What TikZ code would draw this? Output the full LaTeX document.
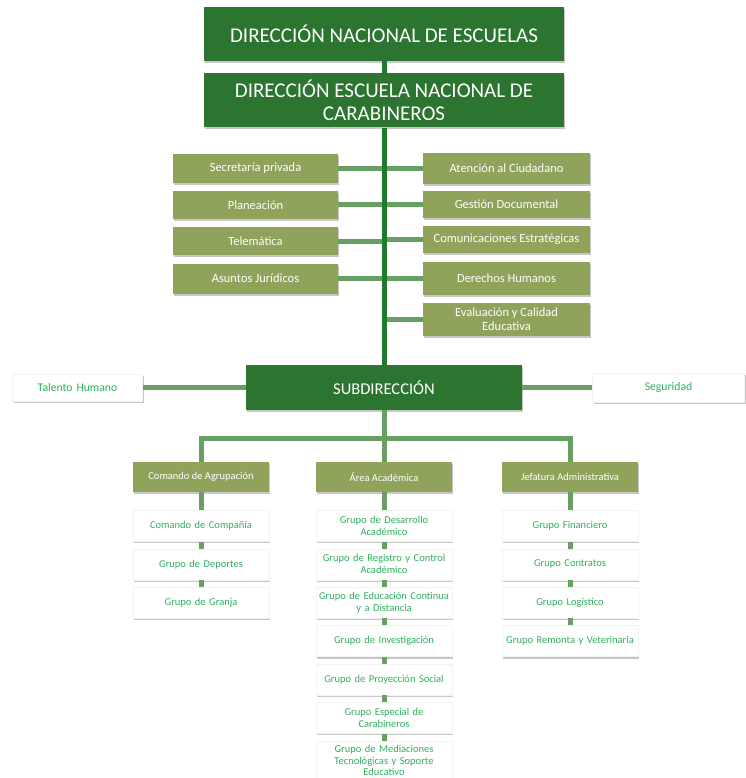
\documentclass[tikz,border=0pt]{standalone}
\usepackage{fontspec}
\setmainfont{Carlito}
\usetikzlibrary{positioning,shadows}
\definecolor{dirgreen}{HTML}{2B7530}
\definecolor{trunkgreen}{HTML}{1F7A2C}
\definecolor{linkgreen}{HTML}{68A063}
\definecolor{unitolive}{HTML}{8FA35B}
\definecolor{unittext}{HTML}{30AE5E}
\tikzset{
  shade box/.style={drop shadow={shadow xshift=1pt, shadow yshift=-2pt, opacity=.22, fill=black}},
  dbox/.style={rectangle, fill=dirgreen, text=white, align=center, font=\fontsize{21}{23}\selectfont, minimum width=360pt, minimum height=54pt, inner sep=2pt, shade box},
  subbox/.style={rectangle, fill=dirgreen, text=white, align=center, font=\fontsize{16.5}{18}\selectfont, minimum width=276pt, minimum height=45pt, inner sep=2pt, shade box},
  sbox/.style={rectangle, fill=unitolive, text=white, align=center, font=\fontsize{12.5}{14}\selectfont, minimum height=28pt, inner sep=2pt, shade box},
  hbox/.style={rectangle, fill=unitolive, text=white, align=center, font=\fontsize{10.5}{12}\selectfont, minimum width=136pt, minimum height=30pt, inner sep=2pt, shade box},
  wbox/.style={rectangle, fill=white, draw=black!5, text=unittext, align=center, font=\fontsize{10.5}{12}\selectfont, text width=133pt, minimum height=31pt, inner xsep=1.5pt, inner ysep=2pt, shade box},
  link/.style={line width=5pt, draw=linkgreen},
  trunk/.style={line width=5pt, draw=trunkgreen},
}
\begin{document}
\begin{tikzpicture}[x=1pt, y=-1pt, node distance=7pt]
\useasboundingbox (0,0) rectangle (745,778);
% direccion
\node[dbox] (dne) at (384,34) {DIRECCIÓN NACIONAL DE ESCUELAS};
\node[dbox, below=12pt of dne] (denc) {DIRECCIÓN ESCUELA NACIONAL DE\\CARABINEROS};
% staff, left
\node[sbox, minimum width=165pt] (sec) at (255.5,168.5) {Secretaría privada};
\node[sbox, minimum width=165pt, below=8pt of sec] (pla) {Planeación};
\node[sbox, minimum width=165pt, below=8pt of pla] (tel) {Telemática};
\node[sbox, minimum width=165pt, below=8pt of tel, minimum height=30pt] (asu) {Asuntos Jurídicos};
% staff, right
\node[sbox, minimum width=167pt, minimum height=31pt] (ate) at (506.5,168.5) {Atención al Ciudadano};
\node[sbox, minimum width=167pt, minimum height=27pt] (ges) at (506.5,204) {Gestión Documental};
\node[sbox, minimum width=167pt, minimum height=27pt] (com) at (506.5,239.5) {Comunicaciones Estratégicas};
\node[sbox, minimum width=167pt, minimum height=33pt] (der) at (506.5,278.5) {Derechos Humanos};
\node[sbox, minimum width=167pt, minimum height=33pt] (eva) at (506.5,319.5) {Evaluación y Calidad\\Educativa};
% subdireccion
\node[subbox] (subd) at (384,387.5) {SUBDIRECCIÓN};
\node[wbox, text width=127pt, minimum height=27pt, font=\fontsize{11.7}{13}\selectfont] (tal) at (77.5,387.5) {Talento Humano};
\node[wbox, text width=149pt, minimum height=29pt, font=\fontsize{11.7}{13}\selectfont] (seg) at (668.5,387.5) {Seguridad};
% areas
\node[hbox] (cagr) at (201,477) {Comando de Agrupación};
\node[hbox] (aaca) at (384,477) {Área Académica};
\node[hbox] (jadm) at (570,477) {Jefatura Administrativa};
\node[wbox, below=18pt of cagr] (cc1) {Comando de Compañía};
\node[wbox, below=of cc1] (cc2) {Grupo de Deportes};
\node[wbox, below=of cc2] (cc3) {Grupo de Granja};
\node[wbox, below=18pt of aaca] (ac1) {Grupo de Desarrollo\\Académico};
\node[wbox, below=of ac1] (ac2) {Grupo de Registro y Control\\Académico};
\node[wbox, below=of ac2] (ac3) {Grupo de Educación Continua\\y a Distancia};
\node[wbox, below=of ac3] (ac4) {Grupo de Investigación};
\node[wbox, below=of ac4] (ac5) {Grupo de Proyección Social};
\node[wbox, below=of ac5] (ac6) {Grupo Especial  de\\Carabineros};
\node[wbox, below=of ac6, minimum height=40pt, font=\fontsize{10.5}{11.5}\selectfont, inner ysep=1pt] (ac7) {Grupo de Mediaciones\\Tecnológicas y Soporte\\Educativo};
\node[wbox, below=18pt of jadm] (ja1) {Grupo Financiero};
\node[wbox, below=of ja1] (ja2) {Grupo Contratos};
\node[wbox, below=of ja2] (ja3) {Grupo Logístico};
\node[wbox, below=of ja3] (ja4) {Grupo Remonta y Veterinaria};
% connectors
\foreach \u in {sec,pla,tel,asu,ate,ges,com,der,eva}
  \draw[link] (\u) -- (\u -| denc);
\draw[trunk] (dne) -- (denc);
\draw[trunk] (denc) -- (subd);
\draw[link] (tal) -- (subd);
\draw[link] (seg) -- (subd);
\coordinate (bar) at (384,438);
\draw[link] (subd) -- (aaca);
\draw[link] (cagr) |- (bar) -| (jadm);
\foreach \a/\b in {cagr/cc1,cc1/cc2,cc2/cc3,aaca/ac1,ac1/ac2,ac2/ac3,ac3/ac4,ac4/ac5,ac5/ac6,ac6/ac7,jadm/ja1,ja1/ja2,ja2/ja3,ja3/ja4}
  \draw[link] (\a) -- (\b);
\end{tikzpicture}
\end{document}
